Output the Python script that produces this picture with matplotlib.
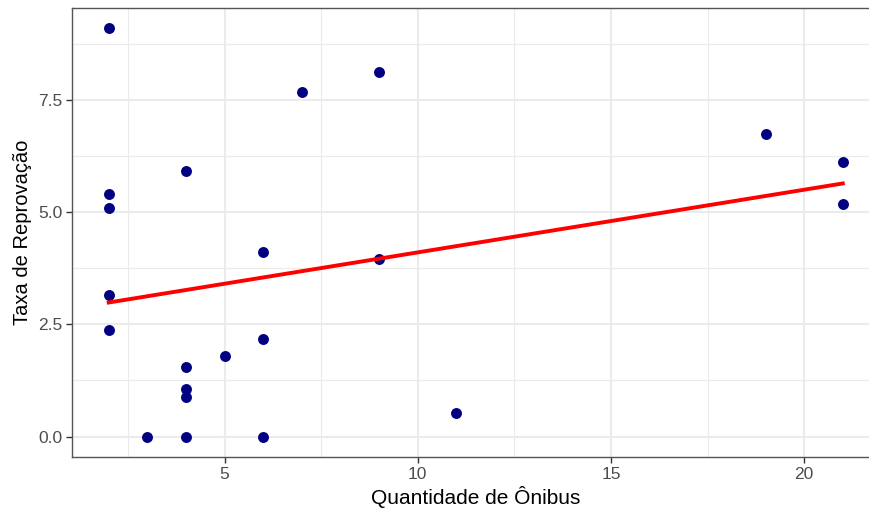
import numpy as np
import matplotlib.pyplot as plt

# number of buses per school vs. failure rate
onibus = [2, 2, 2, 2, 2, 3, 4, 4, 4, 4, 4, 5, 6, 6, 6, 7, 9, 9, 11, 19, 21, 21]
reprovacao = [9.09, 5.41, 5.08, 3.16, 2.38, 0.0, 5.92, 1.54, 1.05, 0.89, 0.0,
              1.80, 4.10, 2.18, 0.0, 7.68, 8.11, 3.96, 0.53, 6.73, 6.12, 5.17]

x = np.array(onibus, dtype=float)
y = np.array(reprovacao, dtype=float)

plt.rcParams["font.family"] = ["Liberation Sans", "DejaVu Sans"]

fig = plt.figure(figsize=(8.69, 5.11), dpi=100)
# panel runs slightly past the right edge of the image
ax = fig.add_axes([72 / 869, 54 / 511, 807.5 / 869, 449 / 511])

# linear fit (like geom_smooth(method = "lm", se = FALSE))
slope, intercept = np.polyfit(x, y, 1)
xs = np.array([x.min(), x.max()])

ax.scatter(x, y, s=62, color="#000080", zorder=3, linewidths=0)
ax.plot(xs, intercept + slope * xs, color="#ff0000", linewidth=2.8, zorder=4)

# ggplot-style 5% expansion
xr = x.max() - x.min()
yr = y.max() - y.min()
ax.set_xlim(x.min() - 0.05 * xr, x.max() + 0.05 * xr)
ax.set_ylim(y.min() - 0.05 * yr, y.max() + 0.05 * yr)

ax.set_xticks([5, 10, 15, 20])
ax.set_xticks([2.5, 7.5, 12.5, 17.5], minor=True)
ax.set_yticks([0, 2.5, 5.0, 7.5])
ax.set_yticklabels(["0.0", "2.5", "5.0", "7.5"])
ax.set_yticks([1.25, 3.75, 6.25, 8.75], minor=True)

ax.grid(which="major", color="#ebebeb", linewidth=1.5)
ax.grid(which="minor", color="#ebebeb", linewidth=0.8)
ax.set_axisbelow(True)

for sp in ax.spines.values():
    sp.set_color("#555555")
    sp.set_linewidth(1.0)

ax.tick_params(which="major", length=4, width=1, color="#333333",
               labelsize=12.5, labelcolor="#4d4d4d", pad=3)
ax.tick_params(which="minor", length=0)

ax.set_xlabel("Quantidade de Ônibus", fontsize=15, color="black", labelpad=3)
ax.set_ylabel("Taxa de Reprovação", fontsize=14.5, color="black", labelpad=4)

fig.savefig("out.png", dpi=100)
